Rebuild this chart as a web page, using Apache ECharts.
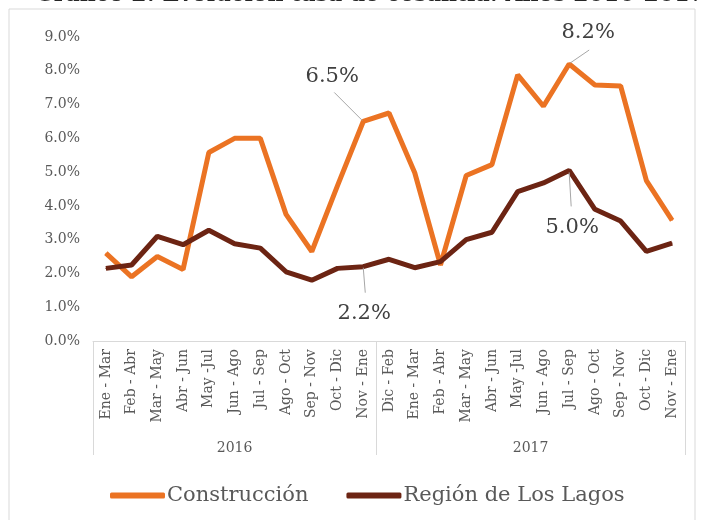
<!DOCTYPE html>
<html>
<head>
<meta charset="utf-8">
<script src="https://cdn.jsdelivr.net/npm/echarts@6/dist/echarts.min.js"></script>
<style>
  html, body { margin: 0; padding: 0; background: #fff; }
  #chart { width: 701px; height: 520px; }
</style>
</head>
<body>
<div id="chart"></div>
<script>
// datos
var periodos = ['Ene - Mar', 'Feb - Abr', 'Mar - May', 'Abr - Jun', 'May -Jul', 'Jun - Ago',
    'Jul - Sep', 'Ago - Oct', 'Sep - Nov', 'Oct - Dic', 'Nov - Ene',
    'Dic - Feb', 'Ene - Mar', 'Feb - Abr', 'Mar - May', 'Abr - Jun', 'May -Jul',
    'Jun - Ago', 'Jul - Sep', 'Ago - Oct', 'Sep - Nov', 'Oct - Dic', 'Nov - Ene'];
var anios = ['2016', '2017'];
var construccion = [2.6, 1.9, 2.5, 2.12, 5.58, 6.0, 6.0, 3.75, 2.65, 4.6, 6.5,
    6.75, 4.98, 2.25, 4.9, 5.22, 7.88, 6.95, 8.2, 7.58, 7.55, 4.75, 3.57];
var losLagos = [2.15, 2.25, 3.1, 2.85, 3.28, 2.88, 2.75, 2.05, 1.8, 2.15, 2.2,
    2.42, 2.17, 2.35, 3.0, 3.22, 4.42, 4.68, 5.05, 3.9, 3.55, 2.65, 2.9];
// puntos con etiqueta (indice de periodo)
var notasC = [10, 18];
var notasL = [10, 18];

var fuente = 'DejaVu Serif';
var gris = '#595959';

// desplazamiento de etiqueta y de la linea guia [dx, dy, x1, y1, x2, y2], por serie e indice
var desp = [
    { 10: [-31, -45, -1, -1, -29, -29], 18: [19, -31, 1, -1, 20, -14] },
    { 10: [1, 47, 0, 1, 2, 26], 18: [3, 57, 0, 2, 2, 36] }
];

var myChart = echarts.init(document.getElementById('chart'));

function etiqueta(valor) {
    return {
        value: valor,
        label: {
            show: true,
            fontFamily: fuente,
            fontSize: 21,
            color: '#404040',
            formatter: function (p) { return p.value.toFixed(1) + '%'; }
        }
    };
}

var datosC = construccion.map(function (v, i) {
    return notasC.indexOf(i) >= 0 ? etiqueta(v) : v;
});
var datosL = losLagos.map(function (v, i) {
    return notasL.indexOf(i) >= 0 ? etiqueta(v) : v;
});

function ubicar(params) {
    var o = desp[params.seriesIndex][params.dataIndex];
    if (!o) return;
    var cx = params.rect.x + params.rect.width / 2;
    var cy = params.rect.y + params.rect.height / 2;
    return { x: cx + o[0], y: cy + o[1], align: 'center', verticalAlign: 'middle' };
}

var option = {
    animation: false,
    graphic: [{
        type: 'rect',
        shape: { x: 9, y: 9, width: 686, height: 540 },
        style: { fill: 'none', stroke: '#d9d9d9', lineWidth: 1 },
        silent: true
    }, {
        type: 'text',
        left: 35, top: -16,
        style: {
            text: 'Gráfico 2: Evolución tasa de cesantía: Años 2016-2017',
            font: 'bold 22px "DejaVu Serif"',
            fill: '#262626'
        }
    }],
    legend: {
        left: 105, top: 480,
        icon: 'roundRect',
        itemWidth: 55, itemHeight: 6,
        itemGap: 38,
        textStyle: { fontFamily: fuente, fontSize: 21, color: gris, padding: [0, 0, 0, -3] },
        data: ['Construcción', 'Región de Los Lagos']
    },
    grid: { left: 93, right: 16, top: 37, bottom: 179 },
    xAxis: [{
        type: 'category',
        data: periodos,
        boundaryGap: true,
        axisLine: { lineStyle: { color: '#d9d9d9' } },
        axisTick: { show: false },
        axisLabel: {
            interval: 0, rotate: 90, margin: 8,
            fontFamily: fuente, fontSize: 14, color: gris
        }
    }, {
        type: 'value',
        position: 'bottom',
        min: 0, max: 23,
        axisLine: { show: false },
        splitLine: { show: false },
        axisTick: {
            show: true, customValues: [0, 11, 23], length: 114,
            lineStyle: { color: '#d9d9d9' }
        },
        axisLabel: {
            customValues: [5.5, 17], margin: 100,
            fontFamily: fuente, fontSize: 14, color: gris,
            formatter: function (v) { return v < 11 ? anios[0] : anios[1]; }
        }
    }],
    yAxis: {
        type: 'value',
        min: 0, max: 9, interval: 1,
        axisLine: { show: false },
        axisTick: { show: false },
        splitLine: { show: false },
        axisLabel: {
            margin: 13, fontFamily: fuente, fontSize: 14, color: gris,
            formatter: function (v) { return v.toFixed(1) + '%'; }
        }
    },
    series: [{
        name: 'Construcción',
        type: 'line',
        data: datosC,
        symbol: 'circle', symbolSize: 1,
        lineStyle: { color: '#EB7323', width: 5 },
        itemStyle: { color: '#EB7323' },
        labelLayout: ubicar
    }, {
        name: 'Región de Los Lagos',
        type: 'line',
        data: datosL,
        symbol: 'circle', symbolSize: 1,
        lineStyle: { color: '#6C2413', width: 5 },
        itemStyle: { color: '#6C2413' },
        labelLayout: ubicar
    }]
};

myChart.setOption(option);

// lineas guia de las etiquetas, a partir de la escala del grafico
var guias = [];
[[construccion, notasC], [losLagos, notasL]].forEach(function (par, s) {
    par[1].forEach(function (i) {
        var p = myChart.convertToPixel({ seriesIndex: s }, [i, par[0][i]]);
        var o = desp[s][i];
        guias.push({
            type: 'line',
            silent: true,
            z: 10,
            shape: { x1: p[0] + o[2], y1: p[1] + o[3], x2: p[0] + o[4], y2: p[1] + o[5] },
            style: { stroke: '#a6a6a6', lineWidth: 1 }
        });
    });
});
myChart.setOption({ graphic: option.graphic.concat(guias) });

window.addEventListener('resize', function () {
    myChart.resize();
});
</script>
</body>
</html>
